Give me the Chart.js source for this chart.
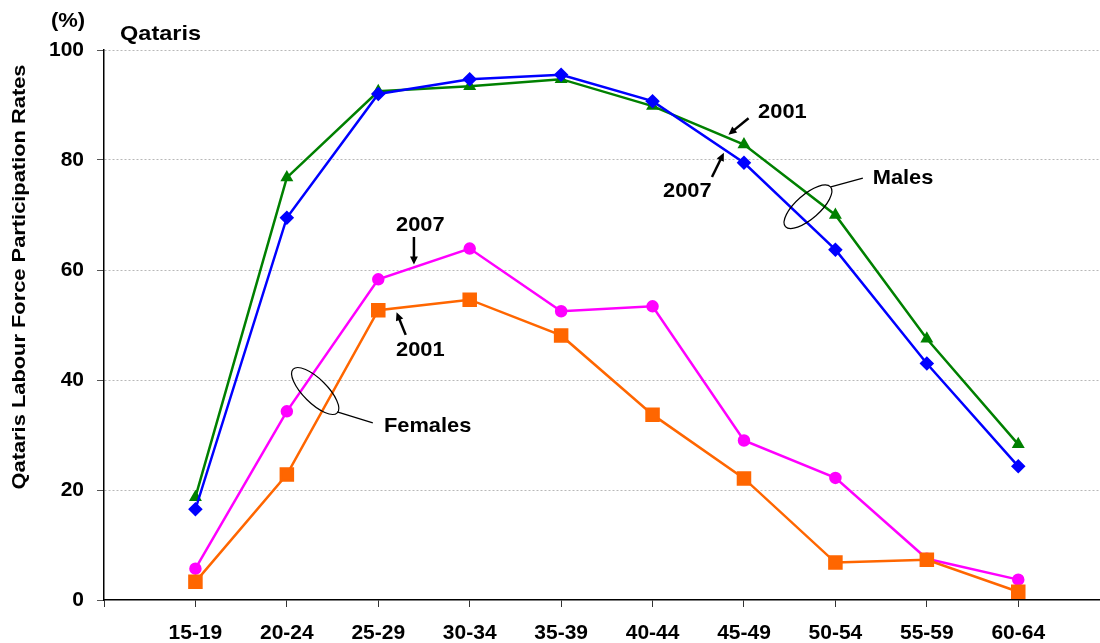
<!DOCTYPE html>
<html>
<head>
<meta charset="utf-8">
<script src="https://cdn.jsdelivr.net/npm/chart.js@4/dist/chart.umd.min.js"></script>
<style>
  html, body { margin: 0; padding: 0; background: #fff; overflow: hidden; }
  /* a little wider than the window: the plot area runs off the right edge like the original */
  #wrap { width: 1112px; height: 643px; position: relative; }
</style>
</head>
<body>
<div id="wrap"><canvas id="chart"></canvas></div>
<script>
'use strict';

// ── Data ──────────────────────────────────────────────────────
const ageGroups   = ['15-19','20-24','25-29','30-34','35-39','40-44','45-49','50-54','55-59','60-64'];
const males2007   = [16.5, 69.5, 92.0, 94.7, 95.5, 90.7, 79.5, 63.7, 43.0, 24.3];
const males2001   = [18.7, 76.8, 92.5, 93.4, 94.7, 89.8, 82.8, 70.0, 47.5, 28.3];
const females2007 = [5.7, 34.3, 58.3, 63.9, 52.5, 53.4, 29.0, 22.2, 7.5, 3.7];
const females2001 = [3.3, 22.8, 52.7, 54.6, 48.1, 33.7, 22.1, 6.8, 7.3, 1.5];
const yTicks      = [0, 20, 40, 60, 80, 100];

const FONT = '"Liberation Sans", Arial, sans-serif';
const X_MIN = -1, X_MAX = 9.905;
const toPoints = arr => arr.map((v, i) => ({ x: i, y: v }));

// ── Annotations (in axis units: category index, percent) ─────
const labels = [
  { text: '2001',    x: 6.42, y: 88.6 },
  { text: '2007',    x: 5.38, y: 74.3 },
  { text: 'Males',   x: 7.74, y: 76.7 },
  { text: '2007',    x: 2.46, y: 68.2 },
  { text: '2001',    x: 2.46, y: 45.4 },
  { text: 'Females', x: 2.54, y: 31.6 }
];
const arrows = [
  { from: [6.05, 87.6], to: [5.83, 84.6] },
  { from: [5.65, 76.9], to: [5.78, 81.3] },
  { from: [2.39, 66.0], to: [2.39, 61.0] },
  { from: [2.30, 48.2], to: [2.20, 52.3] }
];
const leaders = [
  { from: [7.30, 76.7], to: [6.95, 75.1] },
  { from: [1.94, 32.2], to: [1.55, 34.2] }
];
const ellipses = [
  { x: 6.70, y: 71.5, rx: 30, ry: 12, rot: -0.72 },
  { x: 1.31, y: 38.0, rx: 31, ry: 12, rot: 0.78 }
];

// stretched bold text, the original fonts run a bit wide
function wideText(ctx, text, x, y, size, stretch) {
  ctx.save();
  ctx.font = 'bold ' + size + 'px ' + FONT;
  ctx.translate(x, y);
  ctx.scale(stretch, 1);
  ctx.fillText(text, 0, 0);
  ctx.restore();
}

// ── Decorations plugin ────────────────────────────────────────
const decorations = {
  id: 'decorations',
  afterDraw(chart) {
    const { ctx } = chart;
    const xs = chart.scales.x, ys = chart.scales.y;
    const px = v => xs.getPixelForValue(v);
    const py = v => ys.getPixelForValue(v);
    ctx.save();
    ctx.fillStyle = '#000';
    ctx.strokeStyle = '#000';
    ctx.textBaseline = 'middle';

    // header texts
    ctx.textAlign = 'center';
    wideText(ctx, '(%)', 68, 21, 20, 1.1);
    ctx.textAlign = 'left';
    wideText(ctx, 'Qataris', 120, 34, 21, 1.12);

    // y axis title
    ctx.save();
    ctx.translate(20, 277);
    ctx.rotate(-Math.PI / 2);
    ctx.font = 'bold 19px ' + FONT;
    const title = 'Qataris Labour Force Participation Rates';
    const w = ctx.measureText(title).width;
    ctx.scale(425 / w, 1);
    ctx.textAlign = 'center';
    ctx.fillText(title, 0, 0);
    ctx.restore();

    // labels
    ctx.textAlign = 'center';
    labels.forEach(l => wideText(ctx, l.text, px(l.x), py(l.y), 21, 1.04));

    // arrows
    arrows.forEach(a => {
      const x1 = px(a.from[0]), y1 = py(a.from[1]);
      const x2 = px(a.to[0]),   y2 = py(a.to[1]);
      const ang = Math.atan2(y2 - y1, x2 - x1);
      const head = 9;
      ctx.lineWidth = 2.5;
      ctx.beginPath();
      ctx.moveTo(x1, y1);
      ctx.lineTo(x2 - Math.cos(ang) * head * 0.8, y2 - Math.sin(ang) * head * 0.8);
      ctx.stroke();
      ctx.beginPath();
      ctx.moveTo(x2, y2);
      ctx.lineTo(x2 - head * Math.cos(ang - 0.45), y2 - head * Math.sin(ang - 0.45));
      ctx.lineTo(x2 - head * Math.cos(ang + 0.45), y2 - head * Math.sin(ang + 0.45));
      ctx.closePath();
      ctx.fill();
    });

    // leader lines + ellipses
    ctx.lineWidth = 1.2;
    leaders.forEach(l => {
      ctx.beginPath();
      ctx.moveTo(px(l.from[0]), py(l.from[1]));
      ctx.lineTo(px(l.to[0]), py(l.to[1]));
      ctx.stroke();
    });
    ellipses.forEach(e => {
      ctx.beginPath();
      ctx.ellipse(px(e.x), py(e.y), e.rx, e.ry, e.rot, 0, Math.PI * 2);
      ctx.stroke();
    });
    ctx.restore();
  }
};

// ── Chart ─────────────────────────────────────────────────────
const series = (label, data, color, style, radius) => ({
  label,
  data: toPoints(data),
  borderColor: color,
  backgroundColor: color,
  pointBackgroundColor: color,
  pointBorderColor: color,
  pointStyle: style,
  pointRadius: radius,
  pointHoverRadius: radius,
  borderWidth: 2.5,
  tension: 0,
  fill: false
});

new Chart(document.getElementById('chart'), {
  type: 'line',
  data: {
    datasets: [
      series('Females 2001', females2001, '#FF6600', 'rect', 8.5),
      series('Females 2007', females2007, '#FF00FF', 'circle', 5),
      series('Males 2007',   males2007,   '#0000FF', 'rectRot', 5.5),
      series('Males 2001',   males2001,   '#008000', 'triangle', 5)
    ]
  },
  options: {
    responsive: true,
    maintainAspectRatio: false,
    animation: false,
    layout: { padding: { top: 50, left: 0, right: 0, bottom: 0 } },
    plugins: {
      legend: { display: false },
      tooltip: { enabled: false }
    },
    scales: {
      x: {
        type: 'linear',
        min: X_MIN,
        max: X_MAX,
        afterFit: s => { s.height = 43; s.paddingLeft = 0; s.paddingRight = 0; },
        // blank ticks at each end, the labels sit on the category ticks
        afterBuildTicks: s => {
          s.ticks = [{ value: X_MIN }]
            .concat(ageGroups.map((_, i) => ({ value: i })))
            .concat([{ value: X_MAX }]);
        },
        grid: {
          drawOnChartArea: false,
          color: '#000',
          tickColor: ctx => (ctx.tick && ctx.tick.value === X_MAX ? 'rgba(0,0,0,0)' : '#333'),
          tickLength: 7,
          lineWidth: 1
        },
        border: { color: '#000', width: 1.5 },
        ticks: {
          autoSkip: false,
          maxRotation: 0,
          padding: 14,
          color: '#000',
          font: { family: FONT, size: 21, weight: 'bold' },
          callback: v => (v >= 0 && Number.isInteger(v) ? ageGroups[v] : '')
        }
      },
      y: {
        min: 0,
        max: 100,
        afterFit: s => { s.width = 104; },
        afterBuildTicks: s => { s.ticks = yTicks.map(v => ({ value: v })); },
        grid: {
          color: ctx => (ctx.tick && ctx.tick.value === 0 ? 'rgba(0,0,0,0)' : '#b8b8b8'),
          tickColor: '#555',
          tickLength: 7,
          lineWidth: 1
        },
        border: { color: '#000', width: 1.5, dash: [2, 2] },
        ticks: {
          padding: 13,
          color: '#000',
          font: { family: FONT, size: 21, weight: 'bold' }
        }
      }
    }
  },
  plugins: [decorations]
});
</script>
</body>
</html>
